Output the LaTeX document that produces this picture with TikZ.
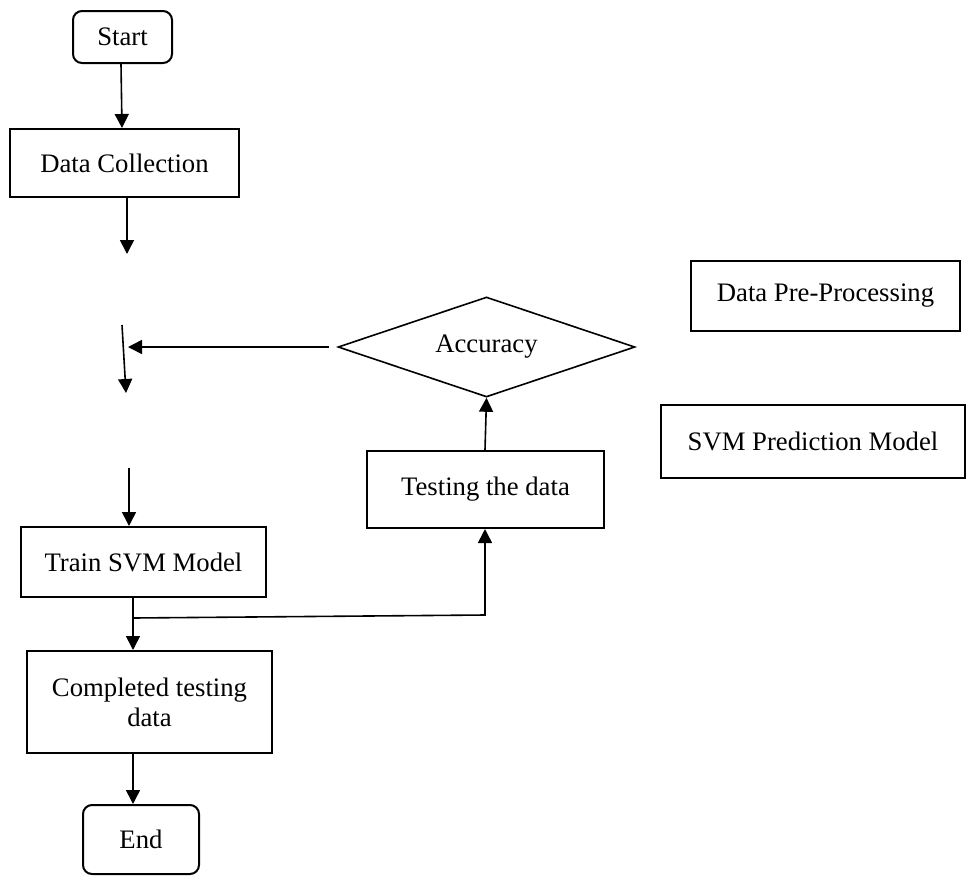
\documentclass[tikz,border=0pt]{standalone}
\usepackage{fontspec}
\setmainfont{Liberation Serif}
\usetikzlibrary{shapes.geometric,arrows.meta}
\begin{document}
\begin{tikzpicture}[x=0.5pt,y=-0.5pt,
  every node/.style={font=\fontsize{13.35}{15}\selectfont},
  boxnode/.style={draw,line width=1pt,inner sep=0pt,align=center},
  termnode/.style={boxnode,rounded corners=4.5pt},
  decnode/.style={draw,line width=0.8pt,diamond,inner sep=0pt,aspect=3},
  arr/.style={line width=0.8pt,-{Triangle[width=7pt,length=7pt]}},
  ln/.style={line width=0.8pt}]
\useasboundingbox (0,0) rectangle (966,875);
\node[termnode,minimum width=49.5pt,minimum height=26pt] (start) at (122.5,37) {Start};
\node[boxnode,minimum width=114.5pt,minimum height=34pt] (dc) at (124.5,163) {Data Collection};
\node[decnode,minimum width=148.5pt,minimum height=50pt] (acc) at (486.5,347) {Accuracy};
\node[boxnode,minimum width=134.5pt,minimum height=35pt] (dpp) at (825.5,296) {Data Pre-Processing};
\node[boxnode,minimum width=152pt,minimum height=36.5pt] (svm) at (813,441.5) {SVM Prediction Model};
\node[boxnode,minimum width=118.5pt,minimum height=38.5pt] (test) at (485.5,489.5) {Testing the data};
\node[boxnode,minimum width=122.5pt,minimum height=35pt] (train) at (143.5,562) {Train SVM Model};
\node[boxnode,minimum width=122.5pt,minimum height=51pt] (comp) at (149.5,702) {Completed testing\\data};
\node[termnode,minimum width=58pt,minimum height=34.5pt] (end) at (141,839.5) {End};
\coordinate (c1) at (127,254);
\coordinate (c2) at (122,325);
\coordinate (c3) at (126,393);
\coordinate (c4) at (128,347);
\coordinate (c5) at (129,468);
\coordinate (c6) at (133,618);
\coordinate (c7) at (485,615);
\draw[arr] (start.south -| 121,0) -- (dc.north -| 122,0);
\draw[arr] (dc.south -| 127,0) -- (c1);
\draw[arr] (c2) -- (c3);
\draw[arr,shorten <=4pt] (acc.west) -- (c4);
\draw[arr] (c5) -- (train.north -| 129,0);
\draw[arr] (train.south -| 133,0) -- (comp.north -| 133,0);
\draw[arr] (c6) -- (c7) -- (test.south -| 485,0);
\draw[arr] (test.north -| 485,0) -- (acc.south);
\draw[arr] (comp.south -| 133,0) -- (end.north -| 133,0);
\end{tikzpicture}
\end{document}
